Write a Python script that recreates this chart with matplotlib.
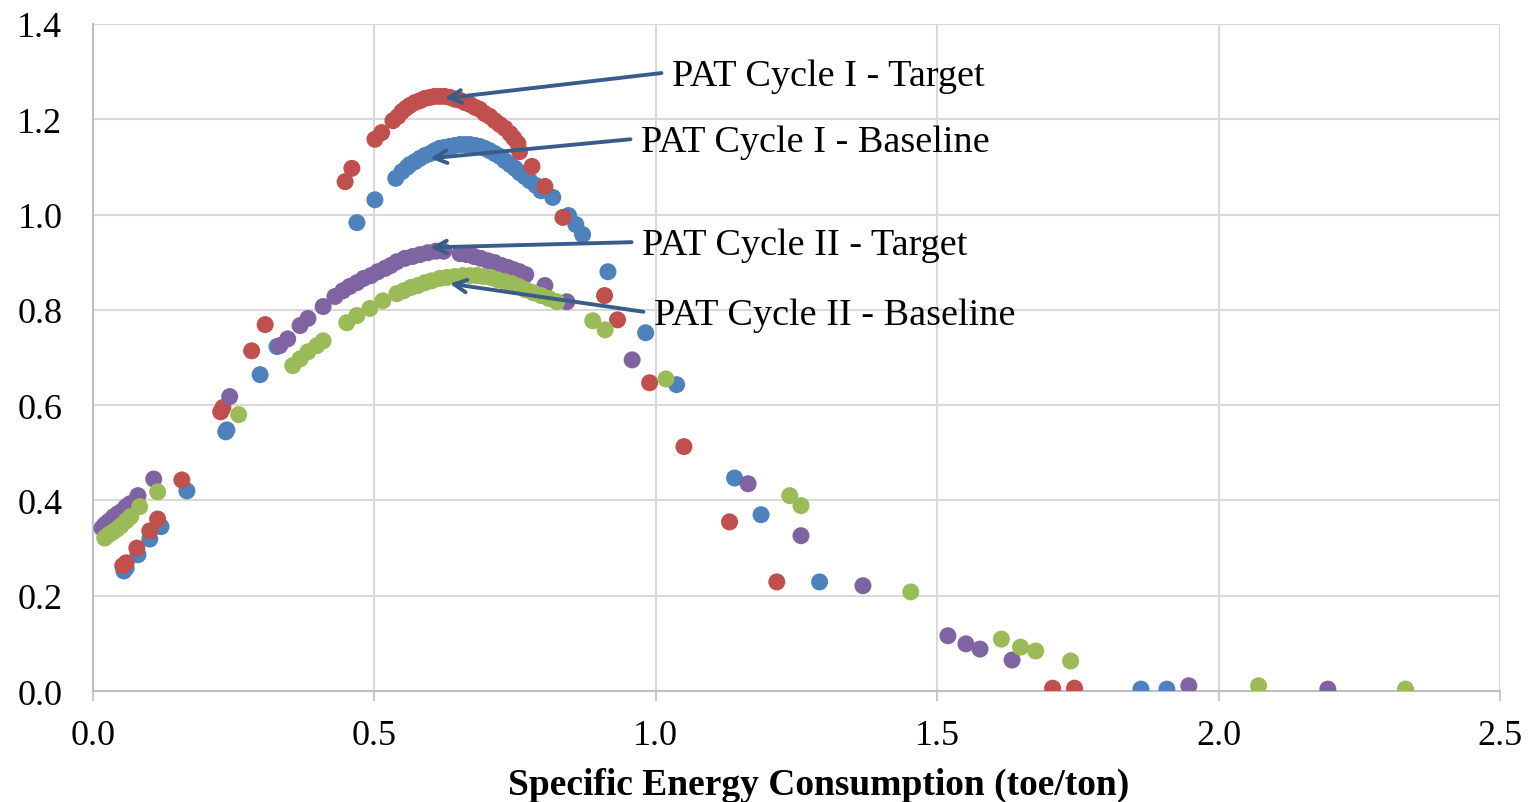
import matplotlib
matplotlib.use("Agg")
import matplotlib.pyplot as plt

# PAT Cycle I - Target (red)
red_x = [0.053, 0.059, 0.078, 0.101, 0.115, 0.158, 0.227, 0.231, 0.282, 0.306,
         0.448, 0.460, 0.501, 0.513, 0.533, 0.542, 0.549, 0.556, 0.563, 0.572,
         0.581, 0.590, 0.599, 0.607, 0.616, 0.625, 0.634, 0.643, 0.652, 0.661,
         0.670, 0.679, 0.687, 0.696, 0.705, 0.714, 0.723, 0.732, 0.741, 0.748,
         0.755, 0.758, 0.780, 0.803, 0.835, 0.909, 0.932, 0.989, 1.050, 1.131,
         1.215, 1.705, 1.744]
red_y = [0.263, 0.269, 0.300, 0.336, 0.361, 0.443, 0.586, 0.595, 0.714, 0.769,
         1.069, 1.097, 1.158, 1.172, 1.197, 1.206, 1.216, 1.223, 1.229, 1.235,
         1.239, 1.244, 1.246, 1.248, 1.248, 1.248, 1.246, 1.242, 1.240, 1.235,
         1.231, 1.225, 1.221, 1.212, 1.206, 1.197, 1.189, 1.181, 1.170, 1.160,
         1.149, 1.132, 1.101, 1.059, 0.994, 0.830, 0.779, 0.647, 0.513, 0.355,
         0.229, 0.006, 0.006]

# PAT Cycle I - Baseline (blue)
blue_x = [0.055, 0.059, 0.080, 0.101, 0.121, 0.167, 0.236, 0.238, 0.297, 0.327,
          0.469, 0.501, 0.538, 0.549, 0.558, 0.563, 0.572, 0.581, 0.590, 0.599,
          0.607, 0.616, 0.625, 0.634, 0.643, 0.652, 0.661, 0.670, 0.679, 0.687,
          0.696, 0.705, 0.714, 0.723, 0.732, 0.741, 0.750, 0.758, 0.767, 0.776,
          0.787, 0.796, 0.817, 0.845, 0.858, 0.870, 0.915, 0.982, 1.037, 1.140,
          1.187, 1.291, 1.862, 1.908]
blue_y = [0.252, 0.258, 0.286, 0.319, 0.345, 0.420, 0.544, 0.548, 0.664, 0.723,
          0.983, 1.031, 1.076, 1.090, 1.099, 1.105, 1.111, 1.118, 1.124, 1.128,
          1.134, 1.139, 1.141, 1.143, 1.145, 1.147, 1.147, 1.147, 1.145, 1.143,
          1.139, 1.134, 1.128, 1.122, 1.113, 1.105, 1.097, 1.088, 1.080, 1.071,
          1.061, 1.050, 1.036, 0.998, 0.979, 0.958, 0.880, 0.752, 0.643, 0.447,
          0.370, 0.229, 0.004, 0.004]

# PAT Cycle II - Target (purple)
purple_x = [0.016, 0.021, 0.027, 0.032, 0.037, 0.044, 0.052, 0.059, 0.066, 0.080,
            0.108, 0.243, 0.332, 0.346, 0.368, 0.382, 0.409, 0.430, 0.444, 0.456,
            0.469, 0.481, 0.494, 0.506, 0.519, 0.529, 0.540, 0.554, 0.568, 0.581,
            0.595, 0.609, 0.623, 0.652, 0.664, 0.677, 0.689, 0.702, 0.714, 0.726,
            0.737, 0.748, 0.758, 0.769, 0.803, 0.842, 0.958, 1.164, 1.258, 1.368,
            1.519, 1.551, 1.576, 1.633, 1.947, 2.194]
purple_y = [0.342, 0.349, 0.355, 0.359, 0.366, 0.372, 0.378, 0.387, 0.393, 0.410,
            0.445, 0.618, 0.725, 0.739, 0.767, 0.782, 0.807, 0.828, 0.840, 0.849,
            0.857, 0.866, 0.872, 0.880, 0.887, 0.893, 0.901, 0.908, 0.912, 0.916,
            0.920, 0.923, 0.923, 0.918, 0.916, 0.912, 0.908, 0.903, 0.899, 0.893,
            0.889, 0.884, 0.880, 0.874, 0.851, 0.817, 0.695, 0.435, 0.326, 0.221,
            0.116, 0.099, 0.088, 0.065, 0.011, 0.004]

# PAT Cycle II - Baseline (green)
green_x = [0.021, 0.028, 0.036, 0.043, 0.050, 0.059, 0.067, 0.083, 0.115, 0.259,
           0.355, 0.368, 0.382, 0.398, 0.409, 0.451, 0.469, 0.492, 0.515, 0.540,
           0.552, 0.565, 0.577, 0.590, 0.602, 0.616, 0.629, 0.643, 0.657, 0.670,
           0.682, 0.694, 0.707, 0.719, 0.732, 0.744, 0.757, 0.769, 0.782, 0.796,
           0.810, 0.824, 0.888, 0.910, 1.018, 1.238, 1.258, 1.453, 1.614, 1.648,
           1.675, 1.737, 2.071, 2.332]
green_y = [0.321, 0.328, 0.334, 0.340, 0.347, 0.357, 0.366, 0.387, 0.418, 0.580,
           0.683, 0.697, 0.712, 0.725, 0.735, 0.773, 0.788, 0.803, 0.819, 0.834,
           0.840, 0.847, 0.851, 0.857, 0.861, 0.866, 0.868, 0.870, 0.872, 0.872,
           0.872, 0.870, 0.868, 0.863, 0.859, 0.855, 0.849, 0.842, 0.836, 0.830,
           0.824, 0.817, 0.777, 0.758, 0.655, 0.410, 0.389, 0.208, 0.109, 0.092,
           0.084, 0.063, 0.011, 0.004]

labels = ["PAT Cycle I - Target", "PAT Cycle I - Baseline",
          "PAT Cycle II - Target", "PAT Cycle II - Baseline"]
label_xy = [(1.028, 1.291), (0.973, 1.152), (0.975, 0.936), (0.996, 0.790)]
arrow_tip = [(0.625, 1.244), (0.599, 1.118), (0.599, 0.931), (0.634, 0.855)]

plt.rcParams["font.family"] = ["Liberation Serif", "DejaVu Serif"]

fig = plt.figure(figsize=(15.31, 8.03), dpi=100)
ax = fig.add_axes([0.0607, 0.1382, 0.9191, 0.8307])

series = [
    (blue_x, blue_y, "#4F81BD"),
    (red_x, red_y, "#C0504D"),
    (purple_x, purple_y, "#8064A2"),
    (green_x, green_y, "#9BBB59"),
]
for xs, ys, color in series:
    ax.scatter(xs, ys, s=150, color=color, edgecolors="none", zorder=3)

for text, (tx, ty), (ax_, ay) in zip(labels, label_xy, arrow_tip):
    ax.annotate(
        "", xy=(ax_, ay), xytext=(tx - 0.018, ty + 0.006),
        arrowprops=dict(arrowstyle="->,head_length=0.9,head_width=0.45",
                        color="#385D8A", lw=2.8, shrinkA=0, shrinkB=0),
        zorder=4,
    )
    ax.text(tx, ty, text, fontsize=27.5, va="center", ha="left", zorder=5)

ax.set_xlim(0, 2.5)
ax.set_ylim(0, 1.4)
ax.set_xticks([0.0, 0.5, 1.0, 1.5, 2.0, 2.5])
ax.set_yticks([0.0, 0.2, 0.4, 0.6, 0.8, 1.0, 1.2, 1.4])
ax.set_xticklabels([f"{v:.1f}" for v in ax.get_xticks()])
ax.set_yticklabels([f"{v:.1f}" for v in ax.get_yticks()])
ax.tick_params(labelsize=26, length=7, color="#BFBFBF", width=1.2)
ax.tick_params(axis="y", length=0, pad=22)
ax.tick_params(axis="x", pad=13)
ax.grid(True, color="#D9D9D9", lw=1.5, zorder=0)
ax.set_axisbelow(True)
for side in ["top", "right"]:
    ax.spines[side].set_visible(False)
for side in ["left", "bottom"]:
    ax.spines[side].set_color("#BFBFBF")
    ax.spines[side].set_linewidth(1.5)

ax.set_xlabel("Specific Energy Consumption (toe/ton)", fontsize=27,
              fontweight="bold", labelpad=11, x=0.516)

fig.savefig("out.png", dpi=100)
